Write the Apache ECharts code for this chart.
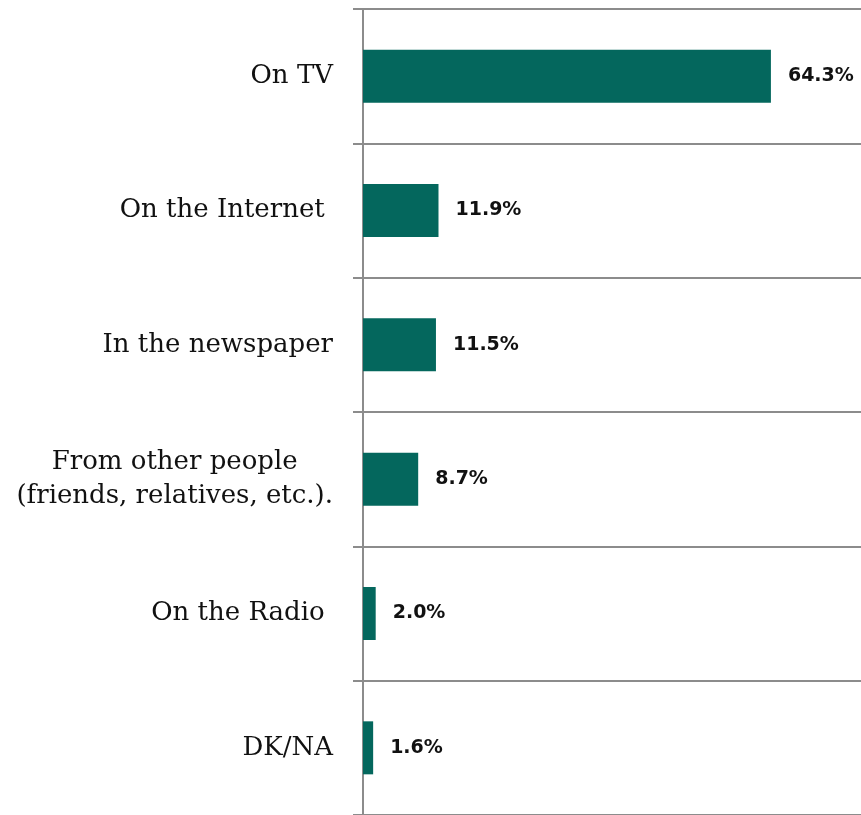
<!DOCTYPE html>
<html>
<head>
<meta charset="utf-8">
<script src="https://cdn.jsdelivr.net/npm/echarts@6/dist/echarts.min.js"></script>
<style>
  html, body { margin: 0; padding: 0; background: #ffffff; }
  #chart { width: 861px; height: 815px; }
</style>
</head>
<body>
<div id="chart"></div>
<script>
// Where people get their news: share of respondents by source
const categories = [
  'On TV',
  'On the Internet ',
  'In the newspaper',
  'From other people\n(friends, relatives, etc.).',
  'On the Radio ',
  'DK/NA'
];
const shares = [64.3, 11.9, 11.5, 8.7, 2.0, 1.6];

const chart = echarts.init(document.getElementById('chart'), null, { renderer: 'canvas' });

// each label line is wrapped in a rich token so multi-line labels stay centred
function labelLines(text) {
  return text.split('\n').map(line => '{l|' + line + '}').join('\n');
}

chart.setOption({
  animation: false,
  backgroundColor: '#ffffff',
  grid: { left: 363, right: 0, top: 9, height: 808, containLabel: false },
  xAxis: {
    type: 'value',
    min: 0,
    max: 78.5,
    show: false
  },
  yAxis: {
    type: 'category',
    inverse: true,
    data: categories,
    axisLine: { show: true, lineStyle: { color: '#8c8c8c', width: 2 } },
    axisTick: { show: true, length: 10, lineStyle: { color: '#8c8c8c', width: 2 } },
    splitLine: { show: true, lineStyle: { color: '#8c8c8c', width: 2 } },
    axisLabel: {
      margin: 30,
      formatter: labelLines,
      rich: {
        l: {
          fontFamily: 'DejaVu Serif',
          fontSize: 26,
          color: '#111111',
          align: 'center',
          lineHeight: 34
        }
      }
    }
  },
  series: [{
    type: 'bar',
    data: shares,
    barWidth: 53,
    itemStyle: { color: '#04675d' },
    label: {
      show: true,
      position: 'right',
      distance: 17,
      formatter: p => p.value.toFixed(1) + '%',
      fontFamily: 'DejaVu Sans',
      fontWeight: 'bold',
      fontSize: 19,
      color: '#111111'
    }
  }]
});
</script>
</body>
</html>
